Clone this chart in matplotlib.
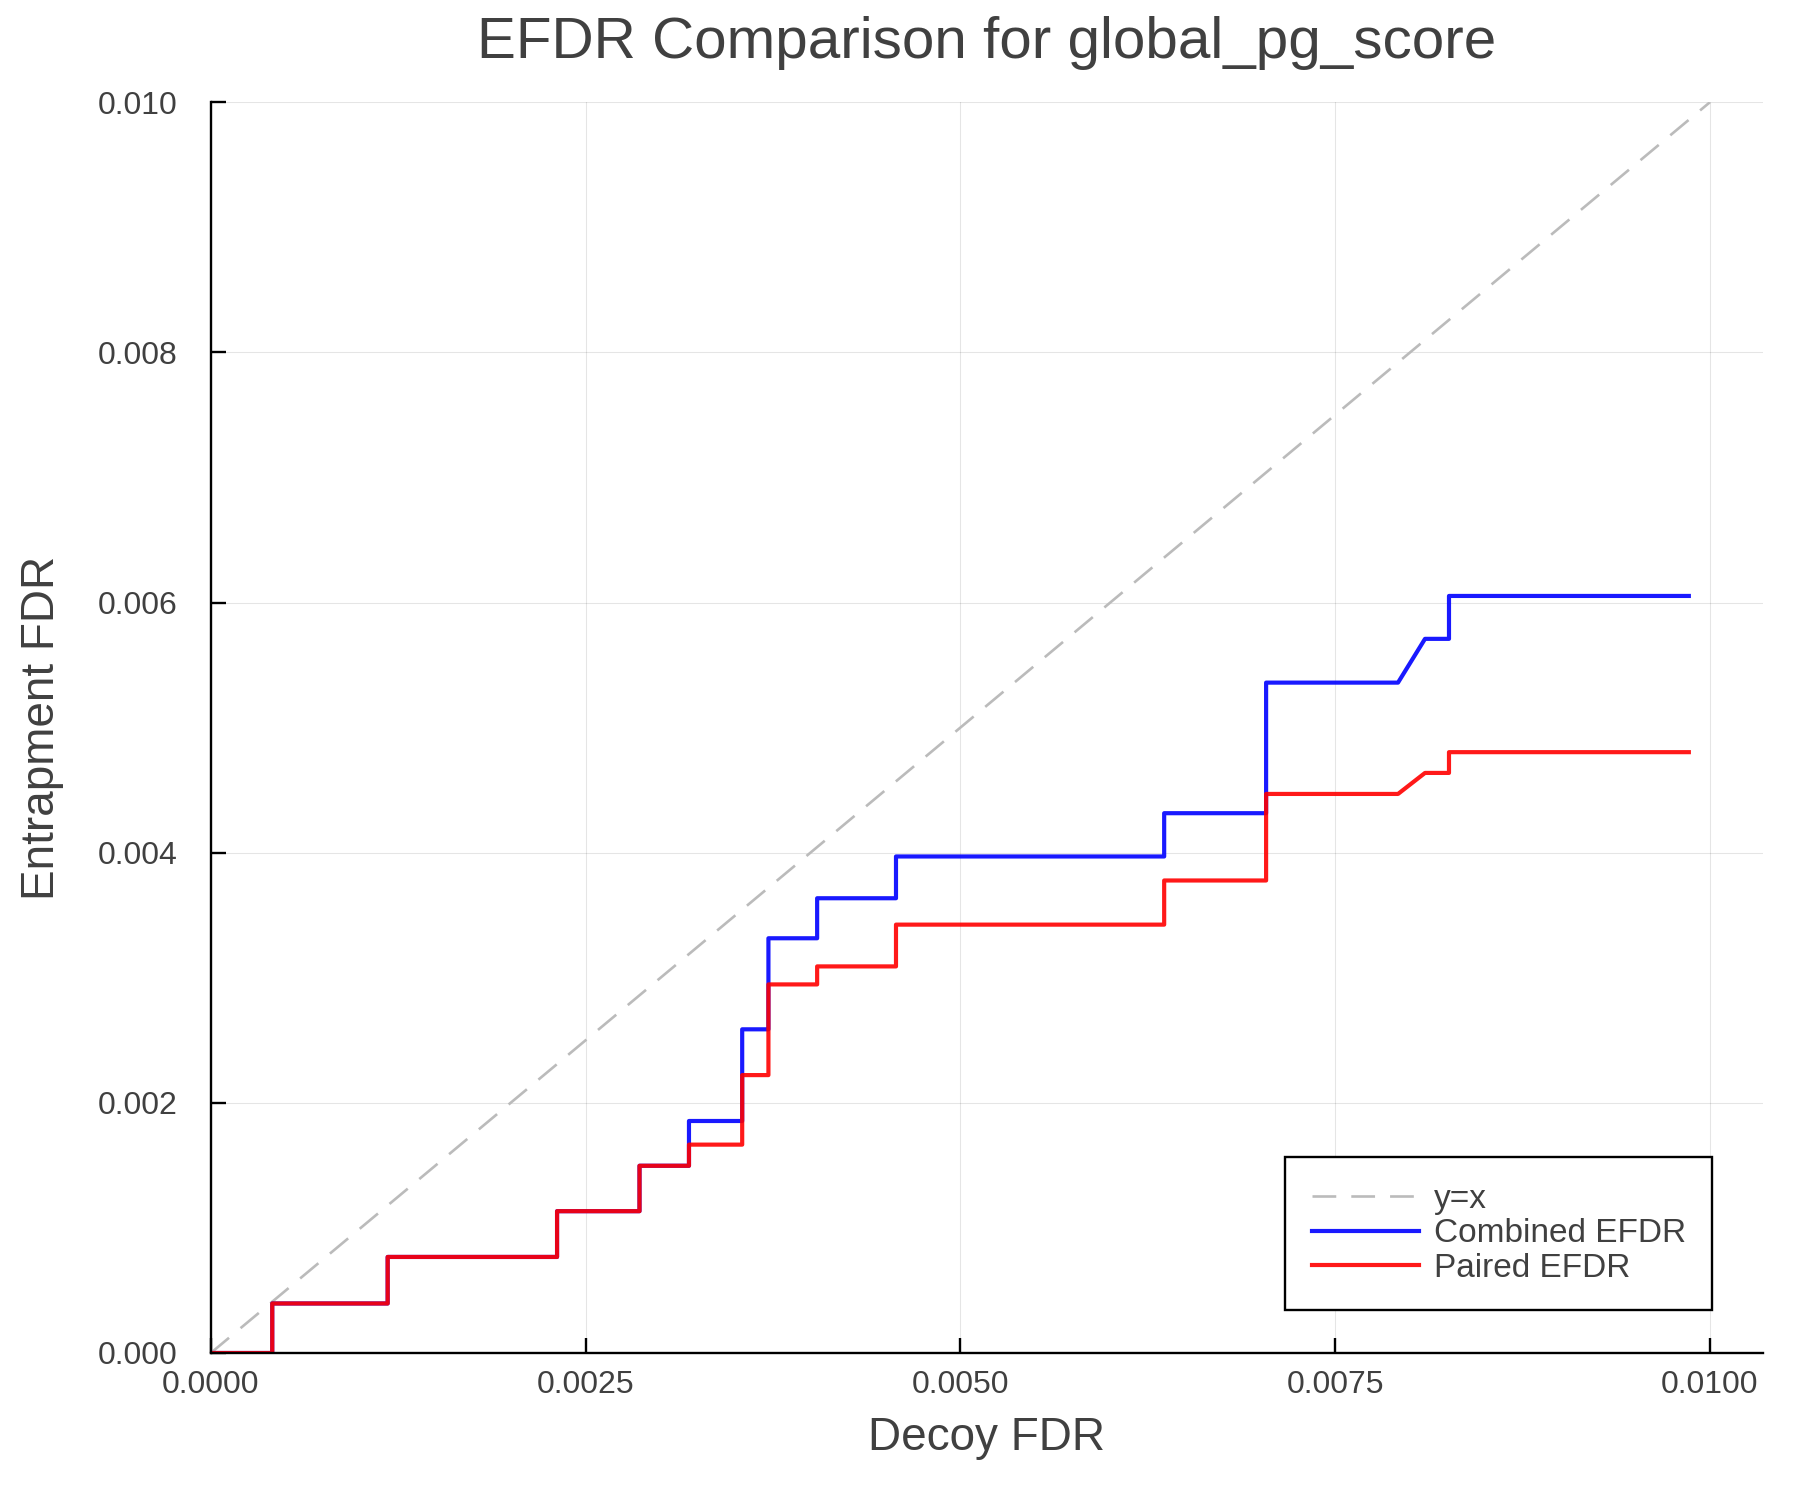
import matplotlib
matplotlib.use("Agg")
import matplotlib.pyplot as plt

# curve vertices (decoy FDR shared by both series)
decoy_fdr = [0.0, 0.00041, 0.00041, 0.00118, 0.00118, 0.00231, 0.00231, 0.00286, 0.00286,
             0.00319, 0.00319, 0.003545, 0.003545, 0.00372, 0.00372, 0.004045, 0.004045,
             0.004571, 0.004571, 0.00636, 0.00636, 0.00704, 0.00704, 0.00792, 0.0081,
             0.00826, 0.00826, 0.00986]
combined_efdr = [0.0, 0.0, 0.000396, 0.000396, 0.000768, 0.000768, 0.001134, 0.001134, 0.001497,
                 0.001497, 0.001855, 0.001855, 0.002588, 0.002588, 0.003316, 0.003316, 0.003636,
                 0.003636, 0.00397, 0.00397, 0.004316, 0.004316, 0.00536, 0.00536, 0.00571,
                 0.00571, 0.006053, 0.006053]
paired_efdr = [0.0, 0.0, 0.000396, 0.000396, 0.000768, 0.000768, 0.001134, 0.001134, 0.001497,
               0.001497, 0.001666, 0.001666, 0.002222, 0.002222, 0.002947, 0.002947, 0.003091,
               0.003091, 0.003425, 0.003425, 0.003778, 0.003778, 0.00447, 0.00447, 0.004638,
               0.004638, 0.004804, 0.004804]
diag = [0.0, 0.01]

x_ticks = [0.0, 0.0025, 0.005, 0.0075, 0.01]
x_labels = ["0.0000", "0.0025", "0.0050", "0.0075", "0.0100"]
y_ticks = [0.0, 0.002, 0.004, 0.006, 0.008, 0.010]
y_labels = ["0.000", "0.002", "0.004", "0.006", "0.008", "0.010"]

plt.rcParams['font.family'] = ['Liberation Sans', 'DejaVu Sans']
txt = '#404040'

fig = plt.figure(figsize=(18, 15), dpi=100)
ax = fig.add_axes([0.1171, 0.098, 0.8622, 0.8338])

ax.plot(diag, diag, color='#bbbbbb', lw=1.9, dashes=(9, 5.7), label='y=x')
ax.plot(decoy_fdr, combined_efdr, color='blue', alpha=0.9, lw=3.0, label='Combined EFDR')
ax.plot(decoy_fdr, paired_efdr, color='red', alpha=0.9, lw=3.0, label='Paired EFDR')

ax.set_xlim(0, max(decoy_fdr) * 1.05)
ax.set_ylim(0, 0.01)
ax.set_xticks(x_ticks)
ax.set_xticklabels(x_labels)
ax.set_yticks(y_ticks)
ax.set_yticklabels(y_labels)

ax.grid(True, color='black', alpha=0.1, lw=0.8)
for s in ['top', 'right']:
    ax.spines[s].set_visible(False)
for s in ['left', 'bottom']:
    ax.spines[s].set_linewidth(1.7)
ax.tick_params(direction='in', length=11, width=1.7, labelsize=23, labelcolor=txt)
ax.tick_params(axis='x', pad=12)
ax.tick_params(axis='y', pad=24)

ax.set_title('EFDR Comparison for global_pg_score', fontsize=42, color=txt, pad=32)
ax.set_xlabel('Decoy FDR', fontsize=33, color=txt, labelpad=12)
ax.set_ylabel('Entrapment FDR', fontsize=33, color=txt, labelpad=24)

leg = ax.legend(loc='lower right', bbox_to_anchor=(0.9675, 0.034), borderaxespad=0,
                fontsize=24, handlelength=3.2, fancybox=False, framealpha=1, borderpad=0.8,
                labelspacing=0.1, handletextpad=0.45)
leg.get_frame().set_edgecolor('black')
leg.get_frame().set_linewidth(1.7)
for t in leg.get_texts():
    t.set_color(txt)

fig.savefig('out.png', dpi=100)
